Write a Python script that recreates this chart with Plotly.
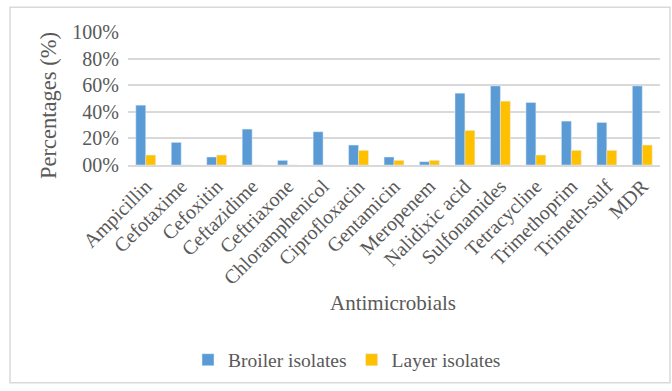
import plotly.graph_objects as go

# Resistance rates by antimicrobial
antimicrobials = ["Ampicillin", "Cefotaxime", "Cefoxitin", "Ceftazidime", "Ceftriaxone",
                  "Chloramphenicol", "Ciprofloxacin", "Gentamicin", "Meropenem",
                  "Nalidixic acid", "Sulfonamides", "Tetracycline", "Trimethoprim",
                  "Trimeth-sulf", "MDR"]
broiler = [45, 17, 6, 27, 3.5, 25, 15, 6, 2.5, 54, 59.5, 47, 33, 32, 59.5]
layer = [7.5, 0, 7.5, 0, 0, 0, 11, 3.5, 3.5, 26, 48, 7.5, 11, 11, 15]

ytick_vals = [0, 20, 40, 60, 80, 100]
ytick_text = ["00%", "20%", "40%", "60%", "80%", "100%"]

W, H = 672, 391
L, R, T, B = 128, 12, 32, 224
pw, ph = W - L - R, H - T - B

def px_x(x):
    return (x - L) / pw

def px_y(y):
    return (H - B - y) / ph

FONT = "Liberation Serif"
GREY = "#595959"

fig = go.Figure()
fig.add_trace(go.Bar(x=antimicrobials, y=broiler, name="Broiler isolates",
                     marker_color="#5B9BD5"))
fig.add_trace(go.Bar(x=antimicrobials, y=layer, name="Layer isolates",
                     marker_color="#FFC000"))

fig.update_layout(
    width=W, height=H,
    margin=dict(l=L, r=R, t=T, b=B),
    paper_bgcolor="white", plot_bgcolor="white",
    barmode="group", bargap=0.44, bargroupgap=0,
    font=dict(family=FONT, color=GREY),
    legend=dict(orientation="h", x=px_x(347), xanchor="center",
                y=px_y(365), yanchor="middle",
                font=dict(size=19.5, color=GREY), itemwidth=30,
                traceorder="normal"),
    showlegend=True,
)
fig.update_xaxes(tickangle=-45, tickfont=dict(size=20, color=GREY),
                 showline=True, linecolor="#d9d9d9", linewidth=1.5,
                 ticks="", showgrid=False)
fig.update_yaxes(range=[0, 100], tickvals=ytick_vals, ticktext=ytick_text,
                 tickfont=dict(size=20, color=GREY), showgrid=True,
                 gridcolor="#d9d9d9", gridwidth=1.5, zeroline=False,
                 ticks="", ticklabelstandoff=8)

# axis titles
fig.add_annotation(text="Percentages (%)", x=px_x(49), y=px_y(107), xref="paper", yref="paper",
                   textangle=-90, showarrow=False, font=dict(size=22.5, color=GREY),
                   xanchor="center", yanchor="middle")
fig.add_annotation(text="Antimicrobials", x=px_x(393), y=px_y(307), xref="paper", yref="paper",
                   showarrow=False, font=dict(size=21, color=GREY),
                   xanchor="center", yanchor="middle")

# chart frame
fig.add_shape(type="rect", xref="paper", yref="paper",
              x0=px_x(10), x1=px_x(670), y0=px_y(388), y1=px_y(7),
              line=dict(color="#d9d9d9", width=1.5), layer="below")

fig.write_html("out.html")
